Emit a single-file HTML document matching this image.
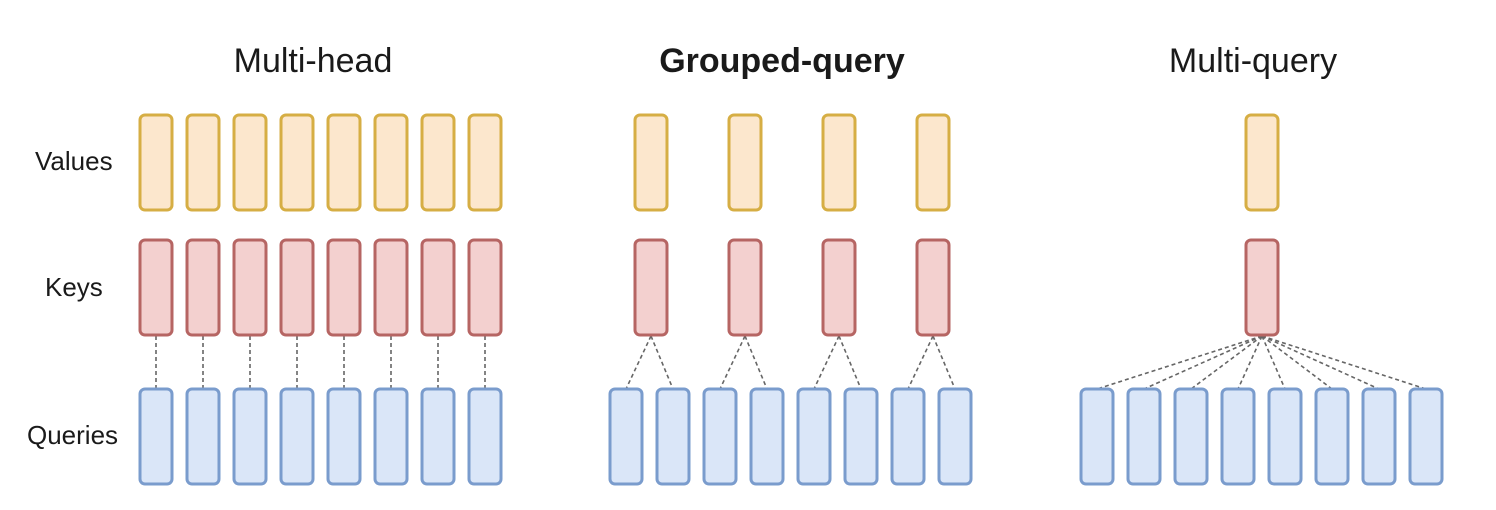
<!DOCTYPE html>
<html><head><style>
html,body{margin:0;padding:0;background:#fff;}
svg{display:block;}
text{font-family:"Liberation Sans",sans-serif;fill:#1a1a1a;}
.v{fill:#fce7cd;stroke:#d6ae44;stroke-width:3;}
.k{fill:#f3d0cf;stroke:#b66563;stroke-width:3;}
.q{fill:#dae6f8;stroke:#7a9ccd;stroke-width:3;}
.l{stroke:#666;stroke-width:1.6;stroke-dasharray:4,3;fill:none;}
</style></head><body>
<svg width="1496" height="510" viewBox="0 0 1496 510" id="s">
<text x="313" y="72" font-size="34" text-anchor="middle">Multi-head</text>
<text x="782" y="72" font-size="34" text-anchor="middle" font-weight="bold">Grouped-query</text>
<text x="1253" y="72" font-size="34" text-anchor="middle">Multi-query</text>
<text x="35" y="170" font-size="26">Values</text>
<text x="45" y="296" font-size="26">Keys</text>
<text x="27" y="444" font-size="26">Queries</text>
<g id="g"></g>
</svg>
<script>
var g=document.getElementById('g'),h='';
function r(x,y,c){h+='<rect class="'+c+'" x="'+x+'" y="'+y+'" width="32" height="95" rx="5"/>';}
function ln(x1,x2){h+='<line class="l" x1="'+(x1+16)+'" y1="336" x2="'+(x2+16)+'" y2="389"/>';}
for(var i=0;i<8;i++){var x=140+47*i;ln(x,x);r(x,115,'v');r(x,240,'k');r(x,389,'q');}
for(var i=0;i<4;i++){var x=635+94*i;ln(x,610+94*i);ln(x,657+94*i);r(x,115,'v');r(x,240,'k');}
for(var i=0;i<8;i++){r(610+47*i,389,'q');}
for(var i=0;i<8;i++){ln(1246,1081+47*i);}
r(1246,115,'v');r(1246,240,'k');
for(var i=0;i<8;i++){r(1081+47*i,389,'q');}
g.innerHTML=h;
</script>
</body></html>
